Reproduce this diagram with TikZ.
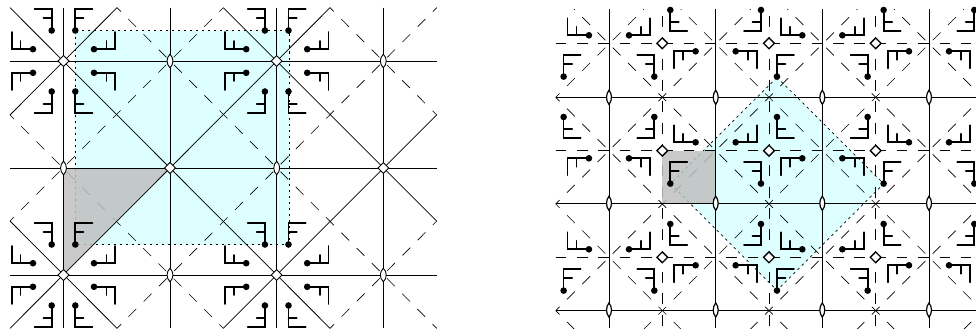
\documentclass[tikz,border=0pt]{standalone}
\usepackage{xcolor}
\definecolor{cellblue}{HTML}{DDFFFF}

\begin{document}
\begin{tikzpicture}[
    x=1pt, y=-1pt,
    mirror/.style={draw, line width=0.75pt},
    glide/.style={draw, line width=0.65pt, dash pattern=on 11pt off 10.55pt, dash phase=5.52pt},
    axialh/.style={draw, line width=0.65pt, dash pattern=on 10.5pt off 10.83pt},
    axialv/.style={draw, line width=0.65pt, dash pattern=on 11pt off 10.33pt, dash phase=14.5pt},
    cellline/.style={draw, line width=0.7pt, dash pattern=on 2.5pt off 3.5pt},
    motif/.style={draw, line width=1.7pt, line cap=round},
    fundamental/.style={fill=gray!50, opacity=0.85},
    outerf/.pic={
        \draw[motif] (29,-51.8) -- (11.8,-51.8) -- (11.8,-30.5);
        \draw[motif] (11.8,-43) -- (20,-43);
        \fill (11.8,-30.5) circle[radius=3.3];
    },
    innerf/.pic={
        \draw[motif] (25,-12) -- (8,-12) -- (8,-33.3);
        \draw[motif] (8,-21) -- (16.5,-21);
        \fill (8,-33.3) circle[radius=3.3];
    },
    fourfold/.pic={
        \draw[fill=white] (-5.4,0) -- (0,-5.4) -- (5.4,0) -- (0,5.4) -- cycle;
    },
    twofold/.pic={
        \draw[fill=white] (0,-6.8) .. controls (4.6,-3) and (4.6,3) .. (0,6.8)
            .. controls (-4.6,3) and (-4.6,-3) .. (0,-6.8) -- cycle;
    }
]
    \useasboundingbox (0,0) rectangle (976,329);

    % Left lattice
    \fill[cellblue] (75.3,30.7) rectangle (289,244.5);
    \path[glide] (117,7.7) -- (436.7,328.3);
    \path[glide] (330,7.7) -- (436.7,115);
    \path[glide] (10,115) -- (223.3,328.3);
    \path[glide] (223.3,7.7) -- (10,221);
    \path[glide] (436.7,7.7) -- (117,328.3);
    \path[glide] (436.7,221) -- (330,328.3);
    \path[cellline] (75.3,30.7) rectangle (289,244.5);
    \fill[fundamental] (63.5,168) -- (170,168) -- (63.5,275) -- cycle;
    \foreach \x in {63.5,170,276.7,383.3}
        \path[mirror] (\x,7.7) -- (\x,328.3);
    \foreach \y in {61,168,275}
        \path[mirror] (10,\y) -- (436.7,\y);
    \path[mirror] (10,7.7) -- (330,328.3);
    \path[mirror] (223.3,7.7) -- (436.7,221);
    \path[mirror] (10,221) -- (117,328.3);
    \path[mirror] (10,115) -- (117,7.7);
    \path[mirror] (330,7.7) -- (10,328.3);
    \path[mirror] (223.3,328.3) -- (436.7,115);
    \foreach \cx/\cy in {63.5/61, 276.7/61, 63.5/275, 276.7/275}
        \foreach \r in {0,90,180,270}
            \foreach \s in {1,-1}
                \pic[rotate=\r, xscale=\s] at (\cx,\cy) {outerf};
    \foreach \cx/\cy in {63.5/61, 276.7/61, 170/168, 383.3/168, 63.5/275, 276.7/275}
        \pic[line width=0.9pt] at (\cx,\cy) {fourfold};
    \foreach \cx/\cy in {170/61, 383.3/61, 63.5/168, 276.7/168, 170/275, 383.3/275}
        \pic[xscale=0.85, line width=0.9pt] at (\cx,\cy) {twofold};

    % Right lattice
    \fill[cellblue] (777,77.3) -- (883.7,183.7) -- (777,290.3) -- (670.3,183.7) -- cycle;
    \begin{scope}
        \clip (555.7,9.3) rectangle (976,328);
        \foreach \n in {-4,...,2}
            \path[glide] (555.7,97.3+106.67*\n) -- ++(500,500);
        \foreach \n in {0,...,7}
            \path[glide] (555.7,97.3+106.67*\n) -- ++(500,-500);
        \foreach \x in {662.3,769,875.7}
            \path[axialv] (\x,9.3) -- (\x,328);
        \foreach \y in {43.3,150.7,257.3}
            \path[axialh] (555.7,\y) -- (976,\y);
    \end{scope}
    \path[cellline] (777,77.3) -- (883.7,183.7) -- (777,290.3) -- (670.3,183.7) -- cycle;
    \fill[fundamental] (662.3,150.5) rectangle (715.7,203.3);
    \foreach \x in {609,715.7,822.3,929}
        \path[mirror] (\x,9.3) -- (\x,328);
    \foreach \y in {97.3,203.3,310}
        \path[mirror] (555.7,\y) -- (976,\y);
    \begin{scope}
        \clip (555.7,0) rectangle (976,329);
        \foreach \i in {-1,...,3}
            \foreach \j in {0,1,2}{
                \pgfmathsetmacro\cx{662.3+106.67*\i}
                \pgfmathsetmacro\cy{43.3+107*\j}
                \pgfmathsetmacro\s{1-2*mod(\i+\j+2,2)}
                \foreach \r in {0,90,180,270}
                    \pic[rotate=\r, xscale=\s] at (\cx,\cy) {innerf};
            }
    \end{scope}
    \foreach \cx in {662.3,769,875.7}
        \foreach \cy in {43.3,150.7,257.3}
            \pic[line width=1.3pt] at (\cx,\cy) {fourfold};
    \foreach \cx in {609,715.7,822.3,929}
        \foreach \cy in {97.3,203.3,310}
            \pic[xscale=0.72, yscale=1.05, line width=1.2pt] at (\cx,\cy) {twofold};
\end{tikzpicture}
\end{document}
